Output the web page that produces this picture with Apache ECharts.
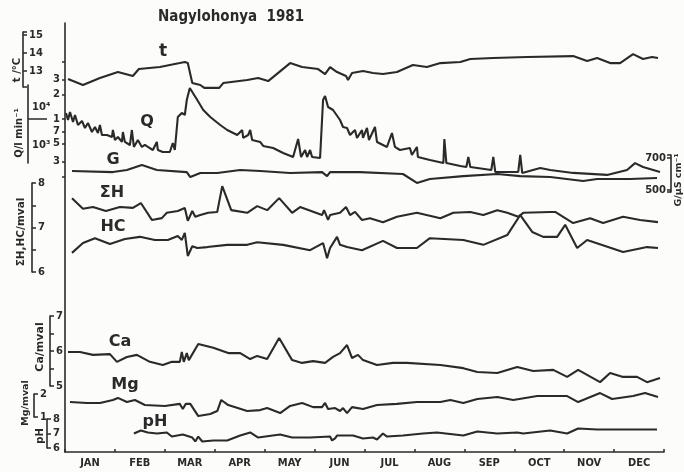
<!DOCTYPE html>
<html><head><meta charset="utf-8">
<script src="https://cdn.jsdelivr.net/npm/echarts@6/dist/echarts.min.js"></script>
<style>html,body{margin:0;padding:0;background:#fcfcfa}#c{width:684px;height:472px}</style>
</head><body><div id="c"></div>
<script>
// ---- data (x in months from 1 Jan, 0..12) ----
const months = ['JAN','FEB','MAR','APR','MAY','JUN','JUL','AUG','SEP','OCT','NOV','DEC'];

const tMonth = [0.06,0.36,0.70,1.06,1.36,1.48,1.90,2.30,2.40,2.46,2.55,2.71,2.79,3.09,3.17,3.65,3.87,4.07,4.51,4.75,5.07,5.21,5.31,5.45,5.63,5.67,5.75,5.97,6.17,6.37,6.65,6.97,7.25,7.52,7.92,8.12,8.58,9.26,10.18,10.46,10.66,10.92,11.12,11.38,11.58,11.76,11.88];
const tVal = [12.56,12.22,12.61,12.94,12.72,13.11,13.22,13.44,13.5,13.44,12.33,12.22,12.06,12.06,12.33,12.5,12.61,12.44,13.44,13.22,13.11,12.83,13.22,12.94,12.72,12.5,12.89,13.0,12.89,12.83,12.94,13.33,13.22,13.44,13.5,13.67,13.72,13.78,13.83,13.56,13.72,13.44,13.44,13.94,13.67,13.78,13.72];

const qMonth = [0.02,0.06,0.10,0.16,0.20,0.26,0.34,0.40,0.46,0.54,
  0.60,0.66,0.70,0.74,0.84,0.94,0.96,1.00,1.06,1.14,
  1.16,1.20,1.30,1.34,1.38,1.46,1.54,1.60,1.66,1.76,
  1.84,1.86,1.96,2.10,2.16,2.20,2.26,2.34,2.40,2.44,
  2.50,2.55,2.65,2.77,2.91,3.11,3.25,3.45,3.55,3.57,
  3.67,3.71,3.75,3.91,3.97,4.17,4.37,4.57,4.67,4.73,
  4.81,4.85,4.91,4.95,5.11,5.17,5.21,5.25,5.27,5.37,
  5.51,5.57,5.65,5.71,5.81,5.85,5.95,5.97,6.05,6.09,
  6.21,6.25,6.45,6.55,6.61,6.71,6.91,6.95,7.05,7.07,
  7.31,7.58,7.60,7.64,7.92,8.04,8.08,8.12,8.54,8.58,
  8.62,9.08,9.12,9.16,9.52,9.72,10.18,10.86,11.26,11.42,
  11.58,11.92];
const qVal = [11840,9720,12170,9190,11190,8450,9450,7770,8940,6940,
  7990,6750,8450,6380,6380,6030,7340,5550,6030,5250,
  6940,5250,4820,7340,4560,5550,4560,4820,4560,4190,
  5250,4190,3960,3960,5100,4190,10580,11840,11190,17050,
  23880,21340,17050,12880,10580,8450,7340,6380,7340,5870,
  6380,7340,5550,5250,4690,4430,3850,3440,5700,3440,
  4190,3440,4190,3440,3350,17050,19070,19620,14000,12880,
  9720,7990,7770,6380,7340,5870,7340,5870,7770,5550,
  7990,5250,4560,6750,4560,4190,4430,3640,4560,3440,
  3160,2900,5700,2900,2675,2600,3440,2600,2390,3440,
  2260,2260,3640,2200,2520,2390,2200,2080,2390,2900,
  2600,2260];

const gMonth = [0.14,0.96,1.24,1.54,1.84,2.44,2.51,2.71,3.05,3.51,3.91,4.51,5.15,5.25,5.31,5.91,6.77,7.05,7.31,7.98,8.66,9.12,9.72,10.38,10.66,11.32,11.86];
const gVal = [619,612,625,656,625,612,581,606,606,625,619,606,612,587,612,612,600,544,569,587,600,587,581,556,569,569,575];

const shMonth = [0.14,0.36,0.56,0.82,1.10,1.36,1.52,1.74,1.94,2.04,2.26,2.40,2.46,2.55,2.61,2.71,2.87,3.05,3.15,3.33,3.65,3.85,4.05,4.29,4.55,4.71,5.15,5.19,5.27,5.31,5.51,5.63,5.71,5.81,5.95,6.11,6.37,6.65,7.05,7.52,7.78,8.12,8.38,8.66,8.86,9.08,9.18,9.72,9.82,10.18,10.52,10.78,11.18,11.52,11.88];
const shVal = [7.66,7.42,7.46,7.37,7.46,7.44,7.55,7.17,7.21,7.33,7.37,7.44,7.15,7.37,7.24,7.28,7.33,7.35,7.93,7.39,7.33,7.48,7.39,7.66,7.33,7.46,7.28,7.39,7.17,7.28,7.33,7.46,7.28,7.35,7.17,7.21,7.12,7.24,7.33,7.21,7.33,7.35,7.28,7.39,7.33,7.24,7.33,7.35,7.35,7.10,7.21,7.10,7.24,7.17,7.12];

const hcMonth = [0.14,0.36,0.60,0.90,1.20,1.50,1.80,2.06,2.26,2.34,2.40,2.46,2.55,2.65,2.85,3.25,3.65,3.85,4.37,4.91,5.17,5.25,5.31,5.45,5.51,5.65,5.95,6.37,6.65,7.05,7.31,7.98,8.38,8.86,9.12,9.36,9.58,9.86,10.02,10.26,10.46,11.18,11.66,11.88];
const hcVal = [6.43,6.65,6.76,6.63,6.74,6.79,6.72,6.72,6.81,6.72,6.88,6.36,6.58,6.54,6.56,6.61,6.61,6.67,6.61,6.49,6.65,6.31,6.54,6.79,6.61,6.56,6.49,6.70,6.54,6.54,6.76,6.72,6.61,6.83,7.28,6.90,6.79,6.79,7.06,6.54,6.72,6.45,6.56,6.54];

const caMonth = [0.06,0.30,0.56,0.90,1.04,1.24,1.44,1.70,1.96,2.14,2.30,2.34,2.38,2.44,2.48,2.67,2.97,3.27,3.51,3.71,3.85,4.05,4.29,4.55,4.75,4.97,5.21,5.37,5.51,5.65,5.75,5.87,5.97,6.25,6.57,6.85,7.52,7.98,8.26,8.66,9.06,9.38,9.78,10.06,10.28,10.72,10.92,11.18,11.46,11.66,11.92];
const caVal = [5.97,5.97,5.89,5.91,5.69,5.83,5.89,5.69,5.60,5.69,5.69,5.97,5.69,5.94,5.74,6.20,6.09,5.94,5.94,5.77,5.86,5.77,6.37,5.74,5.66,5.71,5.66,5.83,5.94,6.17,5.80,5.89,5.74,5.60,5.66,5.66,5.60,5.51,5.40,5.37,5.54,5.43,5.46,5.26,5.46,5.11,5.37,5.26,5.26,5.11,5.23];

const mgMonth = [0.10,0.44,0.70,0.96,1.06,1.24,1.40,1.60,2.00,2.30,2.36,2.42,2.51,2.67,2.91,3.05,3.13,3.27,3.65,3.91,4.05,4.31,4.51,4.75,4.97,5.15,5.21,5.27,5.41,5.51,5.57,5.65,5.75,5.97,6.25,6.65,7.05,7.52,7.72,7.98,8.26,8.66,8.98,9.46,10.06,10.28,10.72,10.96,11.38,11.62,11.88];
const mgVal = [1.65,1.61,1.61,1.74,1.83,1.65,1.74,1.52,1.48,1.57,1.35,1.57,1.57,1.04,1.13,1.26,1.74,1.52,1.26,1.30,1.39,1.17,1.48,1.61,1.43,1.43,1.61,1.35,1.39,1.26,1.39,1.17,1.43,1.35,1.52,1.57,1.65,1.65,1.74,1.61,1.78,1.87,1.74,1.91,1.91,1.65,2.04,1.78,1.91,2.04,1.87];

const phMonth = [1.38,1.52,1.66,1.84,2.04,2.14,2.36,2.55,2.61,2.67,2.75,2.97,3.25,3.51,3.71,3.87,4.31,4.55,4.91,5.31,5.35,5.41,5.45,5.77,5.97,6.17,6.25,6.37,6.45,6.77,7.17,7.45,7.98,8.26,8.66,9.06,9.18,9.72,10.06,10.28,10.66,11.32,11.86];
const phVal = [7.0,7.21,7.07,7.0,7.07,6.79,6.93,6.72,6.45,6.79,6.45,6.52,6.52,6.86,7.07,6.72,6.93,6.72,6.72,6.79,6.52,6.66,6.86,6.86,6.66,6.72,6.59,7.0,6.79,6.86,7.0,7.07,6.86,7.14,7.0,7.07,7.0,7.21,7.0,7.34,7.28,7.28,7.28];

// tick labels
const tTicks = [13,14,15];
const qTickVals = [3000,5000,7000,10000,20000,30000];
const qMinorTicks = [2000,3000,5000,7000,10000,20000,30000,50000];
const gTicks = [500,700];
const hTicks = [6,7,8];
const caTicks = [5,6,7];
const mgTicks = [1,2];
const phTicks = [6,7,8];

// ---- styling / layout ----
const C = '#2a2a2a';
const FONT = 'DejaVu Sans';
const LEFT = 65, RIGHT = 20;
const lg = Math.log10;

function grid(top, height) {
  return {left: LEFT, right: RIGHT, top: top, height: height, containLabel: false, outerBoundsMode: 'none'};
}
function xa(i) {
  return {type: 'value', gridIndex: i, min: 0, max: 12, show: false};
}
function subAxis(gi, min, max, offset, tickVals, labelVals, opt) {
  opt = opt || {};
  return {
    type: 'value', gridIndex: gi, min: min, max: max, position: opt.position || 'left', offset: offset,
    splitLine: {show: false},
    axisLine: {show: opt.noLine ? false : true, onZero: false, lineStyle: {color: C, width: 1.6}},
    axisTick: {show: true, inside: opt.tickOutside ? false : true, length: opt.tickLen || 4,
      customValues: tickVals, lineStyle: {color: C, width: 1.5}},
    axisLabel: {show: true, inside: opt.labelOutside ? false : true, margin: opt.margin || 6,
      customValues: labelVals, color: C, fontFamily: FONT, fontWeight: 'bold', fontSize: opt.fs || 10,
      formatter: opt.formatter}
  };
}
function line(xi, yi, xs, ys, tf) {
  return {type: 'line', xAxisIndex: xi, yAxisIndex: yi,
    data: xs.map((x, i) => [x, tf ? tf(ys[i]) : ys[i]]),
    showSymbol: false, symbol: 'none', clip: false, silent: true, smooth: false,
    lineStyle: {color: C, width: 2.1}};
}
function txt(text, x, y, size, rot, family) {
  return {type: 'text', x: x, y: y, rotation: rot || 0, silent: true,
    style: {text: text, fill: C, font: 'bold ' + size + 'px ' + (family || FONT),
      align: 'center', verticalAlign: 'middle'}};
}

// Q log scale: 10^4 at y=119, 82 px per decade
const qTopL = 4 + (119 - 50) / 82, qBotL = 4 - (185 - 119) / 82;
const qsTopL = 4 + (119 - 85) / 82, qsBotL = 4 - (163 - 119) / 82;

const chart = echarts.init(document.getElementById('c'), null, {renderer: 'canvas'});
chart.setOption({
  animation: false,
  backgroundColor: '#fcfcfa',
  grid: [
    grid(23, 429),          // 0 frame
    grid(32, 55),           // 1 t
    grid(50, 135),          // 2 Q data
    grid(85, 78),           // 3 Q side axis
    grid(155, 37),          // 4 G
    grid(183, 89),          // 5 SH, HC
    grid(316, 70),          // 6 Ca
    grid(394, 23),          // 7 Mg
    grid(419, 29)           // 8 pH
  ],
  xAxis: [
    {type: 'category', gridIndex: 0, data: months, boundaryGap: true,
      axisLine: {show: true, onZero: false, lineStyle: {color: C, width: 1.6}},
      axisTick: {show: true, inside: true, length: 3, lineStyle: {color: C, width: 1.5}},
      axisLabel: {color: C, fontFamily: 'DejaVu Sans Condensed', fontWeight: 'bold', fontSize: 11, margin: 6},
      splitLine: {show: false}},
    xa(1), xa(2), xa(3), xa(4), xa(5), xa(6), xa(7), xa(8)
  ],
  yAxis: [
    {type: 'value', gridIndex: 0, min: 0, max: 1,
      axisLine: {show: true, onZero: false, lineStyle: {color: C, width: 1.6}},
      axisTick: {show: false}, axisLabel: {show: false}, splitLine: {show: false}},
    subAxis(1, 12.11, 15.17, 42, [12.11, 13, 14, 15, 15.17], tTicks),
    subAxis(2, qBotL, qTopL, 0, qMinorTicks.map(lg), qTickVals.map(lg),
      {noLine: true, tickOutside: true, labelOutside: true, tickLen: 3, margin: 5,
       formatter: v => String(Math.round(Math.pow(10, v - Math.floor(v + 1e-9))))}),
    subAxis(3, qsBotL, qsTopL, 37, [4], [4.146, 3.683],
      {tickLen: 19, margin: 4, formatter: v => v > 3.9 ? '10\u2074' : '10\u00b3'}),
    subAxis(4, 487.5, 718.75, 7, [487.5, 500, 700, 718.75], gTicks, {position: 'right', margin: 5}),
    subAxis(5, 6, 8, 33, [6, 6.5, 7, 7.5, 8], hTicks),
    subAxis(6, 5, 7, 15, [5, 5.5, 6, 6.5, 7], caTicks),
    subAxis(7, 1, 2, 31, [1, 2], mgTicks),
    subAxis(8, 6, 8, 18, [6, 7, 8], phTicks)
  ],
  series: [
    line(1, 1, tMonth, tVal),
    line(2, 2, qMonth, qVal, lg),
    line(4, 4, gMonth, gVal),
    line(5, 5, shMonth, shVal),
    line(5, 5, hcMonth, hcVal),
    line(6, 6, caMonth, caVal),
    line(7, 7, mgMonth, mgVal),
    line(8, 8, phMonth, phVal)
  ],
  graphic: [
    {type: 'text', x: 158, y: 10, silent: true,
      style: {text: 'Nagylohonya  1981', fill: C, font: 'bold 15px DejaVu Sans Condensed'}},
    txt('t', 163, 52, 17),
    txt('Q', 147, 122, 16),
    txt('G', 113, 160, 16),
    txt('\u03a3H', 112, 193, 16),
    txt('HC', 113, 227, 16),
    txt('Ca', 120, 342, 16),
    txt('Mg', 125, 385, 16),
    txt('pH', 155, 422, 16),
    txt('t /\u00b0C', 17, 70, 10, Math.PI / 2),
    txt('Q/l min\u207b\u00b9', 19, 133, 10, Math.PI / 2),
    txt('\u03a3H,HC/mval', 21, 232, 10.5, Math.PI / 2),
    txt('Ca/mval', 40, 347, 11, Math.PI / 2),
    txt('Mg/mval', 26, 403, 9.5, Math.PI / 2),
    txt('pH', 40, 436, 10, Math.PI / 2),
    txt('G/\u03bcS cm\u207b\u00b9', 679, 180, 9.5, Math.PI / 2)
  ]
});
</script></body></html>
